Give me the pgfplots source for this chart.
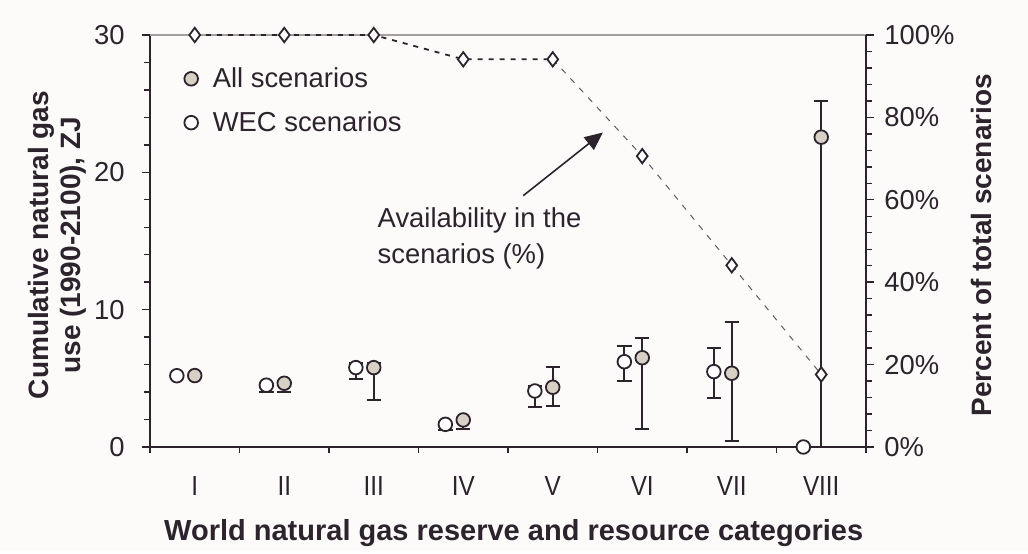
\documentclass[border=0pt]{standalone}
\usepackage{fontspec}
\setmainfont{Liberation Sans}
\newfontfamily\narrowfont[FakeStretch=0.88]{Liberation Sans}
\usepackage{pgfplots}
\pgfplotsset{compat=1.18}
\usepackage{pgfplotstable}
\usetikzlibrary{arrows.meta}

\definecolor{ink}{RGB}{45,35,45}
\definecolor{allfill}{RGB}{216,208,197}
\definecolor{frame}{RGB}{165,160,160}
\definecolor{trail}{RGB}{95,90,95}
\definecolor{bg}{RGB}{252,251,250}

% All scenarios: category, value, error plus, error minus (ZJ)
\pgfplotstableread{
x y ep em
1 5.20 0.05 0.05
2 4.64 0.10 0.64
3 5.78 0.36 2.36
4 1.97 0.08 0.66
5 4.35 1.50 1.34
6 6.50 1.46 5.19
7 5.37 3.73 4.91
8 22.56 2.64 22.56
}\allscen

% WEC scenarios, drawn just left of each category
\pgfplotstableread{
x y ep em
0.8 5.19 0.05 0.05
1.8 4.50 0.08 0.52
2.8 5.78 0.32 0.83
3.8 1.65 0.05 0.41
4.8 4.08 0.36 1.14
5.8 6.21 1.17 1.40
6.8 5.49 1.74 1.94
7.8 0.00 0.00 0.00
}\wecscen

\begin{document}
\begin{tikzpicture}[font=\fontsize{13.7}{16}\selectfont]
\fill[bg] (-75pt,-51.5pt) rectangle (439pt,223.5pt);
\begin{axis}[
  at={(0,0)}, anchor=south west,
  scale only axis, width=358pt, height=206pt,
  xmin=0.5, xmax=8.5, ymin=0, ymax=30,
  clip=false,
  axis x line*=bottom, axis y line*=left,
  axis line style={ink, line width=0.8pt, -},
  every tick/.style={ink, line width=0.7pt},
  tick align=outside,
  major tick length=4pt, minor tick length=3pt,
  xtick={1,...,8}, xticklabels={I,II,III,IV,V,VI,VII,VIII},
  major x tick style={draw=none},
  minor xtick={0.5,1.5,...,8.5},
  xticklabel style={font=\narrowfont\fontsize{13.8}{16}\selectfont, text=ink, anchor=center, yshift=-15.5pt},
  ytick={0,10,20,30}, yticklabels={0,10,20,30},
  minor y tick num=4,
  yticklabel style={text=ink, anchor=east, inner sep=0pt, xshift=-8.5pt},
  xlabel={World natural gas reserve and resource categories},
  xlabel style={text=ink, font=\bfseries\fontsize{14.5}{17}\selectfont,
    at={(axis description cs:0.508,-0.209)}, anchor=center},
  ylabel={Cumulative natural gas\\use (1990-2100), ZJ},
  ylabel style={text=ink, align=center, font=\bfseries\fontsize{14}{16}\selectfont,
    at={(axis description cs:-0.129,0.49)}, anchor=center},
  legend style={at={(axis description cs:0,1)}, anchor=north west,
    xshift=14pt, yshift=-12pt, draw=none, fill=none, text=ink,
    row sep=6.5pt, font=\fontsize{13.7}{16}\selectfont},
  legend cell align=left,
  legend image code/.code={\draw[#1] plot coordinates {(0.25cm,0cm)};
    \path (0.25cm,0cm) ++(8.6pt,0pt);},
]
\draw[frame, line width=0.8pt] (rel axis cs:0,1) -- (rel axis cs:1,1);

\addplot[only marks, mark=*, mark size=3.4pt,
  mark options={draw=ink, fill=allfill, line width=0.9pt},
  error bars/.cd, y dir=both, y explicit,
  error bar style={ink, line width=1pt},
  error mark options={rotate=90, mark size=3.6pt, ink, line width=1pt}]
  table[x=x, y=y, y error plus=ep, y error minus=em] {\allscen};
\addlegendentry{All scenarios}

\addplot[only marks, mark=*, mark size=3.4pt,
  mark options={draw=ink, fill=white, line width=0.9pt},
  error bars/.cd, y dir=both, y explicit,
  error bar style={ink, line width=1pt},
  error mark options={rotate=90, mark size=3.6pt, ink, line width=1pt}]
  table[x=x, y=y, y error plus=ep, y error minus=em] {\wecscen};
\addlegendentry{WEC scenarios}

\draw[ink, line width=0.8pt, -{Triangle[length=9pt, width=8pt]}]
  (axis cs:4.67,18.3) -- (axis cs:5.56,22.9);
\node[text=ink, anchor=west, align=left, inner sep=0pt,
  font=\fontsize{13.7}{18}\selectfont] at (axis cs:3.04,15.2)
  {Availability in the\\scenarios (\%)};
\end{axis}

\begin{axis}[
  at={(0,0)}, anchor=south west,
  scale only axis, width=358pt, height=206pt,
  xmin=0.5, xmax=8.5, ymin=0, ymax=100,
  clip=false,
  axis x line=none, axis y line*=right,
  axis line style={ink, line width=0.8pt, -},
  every tick/.style={ink, line width=0.7pt},
  tick align=outside,
  major tick length=4pt, minor tick length=3pt,
  ytick={0,20,...,100}, yticklabels={0\%,20\%,40\%,60\%,80\%,100\%},
  minor y tick num=4,
  yticklabel style={text=ink, anchor=west, inner sep=0pt, xshift=5pt},
  ylabel={Percent of total scenarios},
  ylabel style={text=ink, font=\bfseries\fontsize{14}{16}\selectfont,
    at={(axis description cs:1.161,0.49)}, anchor=center, rotate=0},
]
\addplot[trail, line width=0.5pt, dash pattern=on 3pt off 3.5pt]
  coordinates {(5,94.1) (6,70.6) (7,44.1) (8,17.6)};
\addplot[ink, line width=0.9pt, dash pattern=on 2.5pt off 3pt]
  coordinates {(1,100) (2,100) (3,100) (4,94.1) (5,94.1)};
\addplot[only marks, mark=diamond*, mark size=3.6pt,
  mark options={draw=ink, fill=white, line width=0.9pt}]
  coordinates {(1,100) (2,100) (3,100) (4,94.1) (5,94.1) (6,70.6) (7,44.1) (8,17.6)};
\end{axis}
\end{tikzpicture}
\end{document}
